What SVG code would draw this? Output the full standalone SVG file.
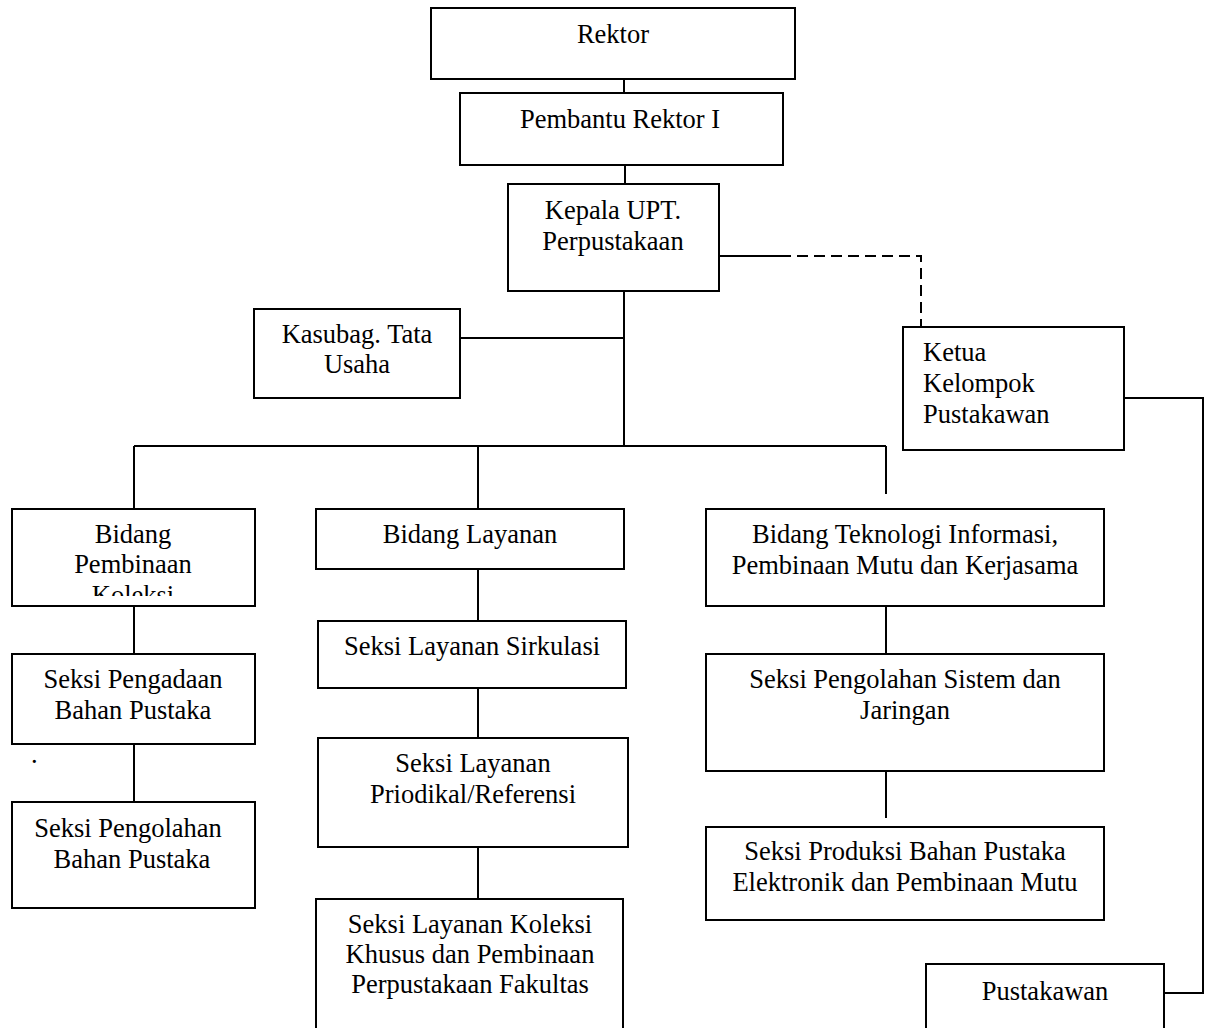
<svg xmlns="http://www.w3.org/2000/svg" width="1205" height="1028" viewBox="0 0 1205 1028">
<style>
.box{fill:#fff;stroke:#000;stroke-width:2}
.t{font-family:"Liberation Serif","Times New Roman",serif;font-size:26.5px;fill:#000;text-anchor:middle}
.tl{font-family:"Liberation Serif","Times New Roman",serif;font-size:26.5px;fill:#000}
.ln{fill:none;stroke:#000;stroke-width:2}
.dash{fill:none;stroke:#000;stroke-width:2;stroke-dasharray:11 6}
</style>
<defs>
<clipPath id="clipBP"><rect x="12" y="509" width="243" height="87"/></clipPath>
</defs>
<rect width="1205" height="1028" fill="#fff"/>
<g id="connectors">
<path class="ln" d="M624 79V93M625 165V184M624 291V446M460 338H624M134 446H886M134 446V509M478 446V509M886 446V494"/>
<path class="ln" d="M719 256H780"/>
<path class="dash" d="M780 256H921V327"/>
<path class="ln" d="M1124 398H1203V993H1164"/>
<path class="ln" d="M134 606V654M134 744V802M478 569V621M478 688V738M478 847V899M886 606V654M886 771V818"/>
</g>
<g id="rektor"><rect class="box" x="431" y="8" width="364" height="71"/><text class="t" x="613" y="43">Rektor</text></g>
<g id="pembantu-rektor"><rect class="box" x="460" y="93" width="323" height="72"/><text class="t" x="620" y="128">Pembantu Rektor I</text></g>
<g id="kepala-upt"><rect class="box" x="508" y="184" width="211" height="107"/><text class="t" x="613" y="219">Kepala UPT.</text><text class="t" x="613" y="250">Perpustakaan</text></g>
<g id="kasubag"><rect class="box" x="254" y="309" width="206" height="89"/><text class="t" x="357" y="343">Kasubag. Tata</text><text class="t" x="357" y="373">Usaha</text></g>
<g id="ketua"><rect class="box" x="903" y="327" width="221" height="123"/><text class="tl" x="923" y="361">Ketua</text><text class="tl" x="923" y="392">Kelompok</text><text class="tl" x="923" y="423">Pustakawan</text></g>
<g id="bidang-pembinaan"><rect class="box" x="12" y="509" width="243" height="97"/><text class="t" x="133" y="543">Bidang</text><text class="t" x="133" y="573">Pembinaan</text><text class="t" x="133" y="604" clip-path="url(#clipBP)">Koleksi</text></g>
<g id="bidang-layanan"><rect class="box" x="316" y="509" width="308" height="60"/><text class="t" x="470" y="543">Bidang Layanan</text></g>
<g id="bidang-ti"><rect class="box" x="706" y="509" width="398" height="97"/><text class="t" x="905" y="543">Bidang Teknologi Informasi,</text><text class="t" x="905" y="574">Pembinaan Mutu dan Kerjasama</text></g>
<g id="seksi-pengadaan"><rect class="box" x="12" y="654" width="243" height="90"/><text class="t" x="133" y="688">Seksi Pengadaan</text><text class="t" x="133" y="719">Bahan Pustaka</text></g>
<text class="tl" x="31" y="763">.</text>
<g id="seksi-pengolahan-bahan"><rect class="box" x="12" y="802" width="243" height="106"/><text class="t" x="128" y="837">Seksi Pengolahan</text><text class="t" x="132" y="868">Bahan Pustaka</text></g>
<g id="seksi-sirkulasi"><rect class="box" x="318" y="621" width="308" height="67"/><text class="t" x="472" y="655">Seksi Layanan Sirkulasi</text></g>
<g id="seksi-priodikal"><rect class="box" x="318" y="738" width="310" height="109"/><text class="t" x="473" y="772">Seksi Layanan</text><text class="t" x="473" y="803">Priodikal/Referensi</text></g>
<g id="seksi-khusus"><rect class="box" x="316" y="899" width="307" height="140"/><text class="t" x="470" y="933">Seksi Layanan Koleksi</text><text class="t" x="470" y="963">Khusus dan Pembinaan</text><text class="t" x="470" y="993">Perpustakaan Fakultas</text></g>
<g id="seksi-sistem"><rect class="box" x="706" y="654" width="398" height="117"/><text class="t" x="905" y="688">Seksi Pengolahan Sistem dan</text><text class="t" x="905" y="719">Jaringan</text></g>
<g id="seksi-produksi"><rect class="box" x="706" y="827" width="398" height="93"/><text class="t" x="905" y="860">Seksi Produksi Bahan Pustaka</text><text class="t" x="905" y="891">Elektronik dan Pembinaan Mutu</text></g>
<g id="pustakawan"><rect class="box" x="926" y="964" width="238" height="76"/><text class="t" x="1045" y="1000">Pustakawan</text></g>
</svg>
